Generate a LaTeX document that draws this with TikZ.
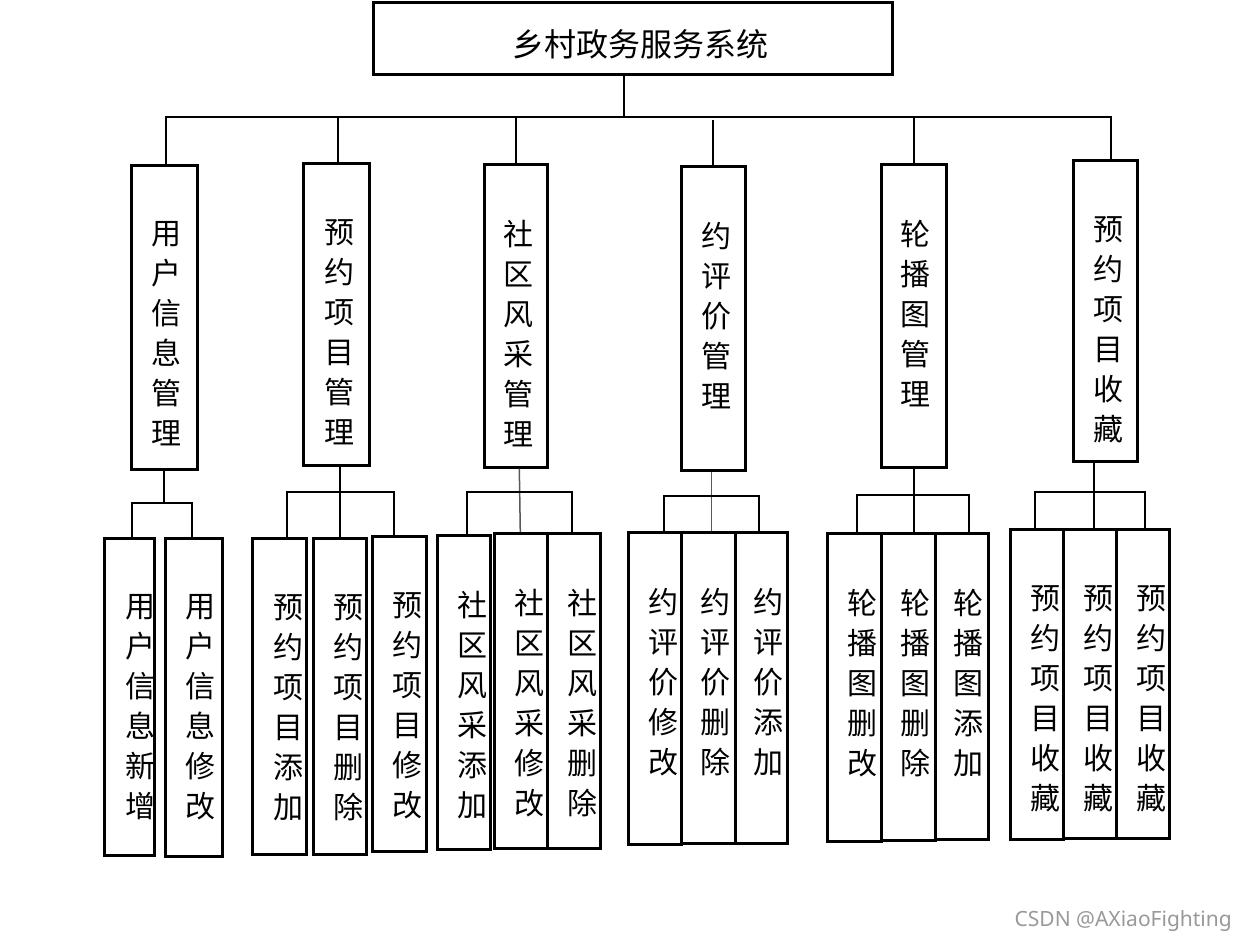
\documentclass[tikz,border=0pt]{standalone}
\usepackage{fontspec}
\newfontfamily\cjk{Noto Sans CJK SC}
\newfontfamily\wmfont{Noto Sans}
\usetikzlibrary{calc}
\begin{document}
\begin{tikzpicture}[x=1pt,y=-1pt,
  box/.style={draw, line width=2.6pt, inner sep=0pt, anchor=north west},
  conn/.style={line width=2.2pt},
  thinconn/.style={line width=1.5pt, black!65},
  vt/.style={font=\cjk\fontsize{30}{40}\selectfont, align=center, inner sep=0pt, anchor=north},
]
\useasboundingbox[fill=white] (0,0) rectangle (1235,941);

% top
\node[box, minimum width=519pt, minimum height=72pt] (top) at (372,1) {};
\node[font=\cjk\fontsize{32}{32}\selectfont, inner sep=0pt] (tt) at (640,44) {乡村政务服务系统};

% level 2
\node[box, minimum width=66pt, minimum height=304pt] (b1) at (130,164) {};
\node[box, minimum width=66pt, minimum height=302pt] (b2) at (302,162) {};
\node[box, minimum width=63pt, minimum height=303pt] (b3) at (483,163) {};
\node[box, minimum width=64pt, minimum height=304pt] (b4) at (680,165) {};
\node[box, minimum width=65pt, minimum height=303pt] (b5) at (880,163) {};
\node[box, minimum width=64pt, minimum height=301pt] (b6) at (1072,159) {};

% level 3
\node[box, minimum width=50pt, minimum height=317pt] (c11) at (103,537) {};
\node[box, minimum width=57pt, minimum height=318pt] (c12) at (164,537) {};
\node[box, minimum width=54pt, minimum height=316pt] (c21) at (251,537) {};
\node[box, minimum width=53pt, minimum height=316pt] (c22) at (312,537) {};
\node[box, minimum width=54pt, minimum height=315pt] (c23) at (371,535) {};
\node[box, minimum width=53pt, minimum height=314pt] (c31) at (436,534) {};
\node[box, minimum width=53pt, minimum height=315pt] (c32) at (493,532) {};
\node[box, minimum width=53pt, minimum height=315pt] (c33) at (546,532) {};
\node[box, minimum width=53pt, minimum height=312pt] (c41) at (627,531) {};
\node[box, minimum width=54pt, minimum height=311pt] (c42) at (680,531) {};
\node[box, minimum width=52pt, minimum height=311pt] (c43) at (734,531) {};
\node[box, minimum width=54pt, minimum height=308pt] (c51) at (826,532) {};
\node[box, minimum width=54pt, minimum height=307pt] (c52) at (880,532) {};
\node[box, minimum width=53pt, minimum height=306pt] (c53) at (934,532) {};
\node[box, minimum width=53pt, minimum height=310pt] (c61) at (1009,528) {};
\node[box, minimum width=53pt, minimum height=309pt] (c62) at (1062,528) {};
\node[box, minimum width=53pt, minimum height=309pt] (c63) at (1115,528) {};

% connectors: top to level 2
\coordinate (bus) at (0,117);
\draw[conn] ([xshift=-8.5pt]top.south) -- ([xshift=-8.5pt]top.south |- bus);
\draw[conn] ([xshift=2pt]b1.north) -- ([xshift=2pt]b1.north |- bus) -- ([xshift=6pt]b6.north |- bus) -- ([xshift=6pt]b6.north);
\draw[conn] ([xshift=2pt]b2.north) -- ([xshift=2pt]b2.north |- bus);
\draw[conn] ([xshift=0.5pt]b3.north) -- ([xshift=0.5pt]b3.north |- bus);
\draw[conn] (b4.north) -- ($(b4.north |- bus)+(0,3)$);
\draw[conn] ([xshift=0.5pt]b5.north) -- ([xshift=0.5pt]b5.north |- bus);

% group 1
\coordinate (j1) at (0,503);
\draw[conn] (b1.south) -- (b1.south |- j1);
\draw[conn] ([xshift=3pt]c11.north) -- ([xshift=3pt]c11.north |- j1) -- ([xshift=-1.5pt]c12.north |- j1) -- ([xshift=-1.5pt]c12.north);

% group 2
\coordinate (j2) at (0,492);
\draw[conn] (b2.south -| c22.north) -- (c22.north);
\draw[conn] ([xshift=8pt]c21.north) -- ([xshift=8pt]c21.north |- j2) -- ([xshift=-5pt]c23.north |- j2) -- ([xshift=-5pt]c23.north);

% group 3
\coordinate (j3) at (0,492);
\draw[thinconn] ([xshift=3.5pt]b3.south) -- ([xshift=-0.5pt]c32.north);
\draw[conn] ([xshift=3.5pt]c31.north) -- ([xshift=3.5pt]c31.north |- j3) -- ([xshift=-1.5pt]c33.north |- j3) -- ([xshift=-1.5pt]c33.north);

% group 4
\coordinate (j4) at (0,496);
\draw[thinconn] ([xshift=3pt]c42.north |- b4.south) -- ([xshift=3pt]c42.north);
\draw[conn] ([xshift=9.5pt]c41.north) -- ([xshift=9.5pt]c41.north |- j4) -- ([xshift=-2pt]c43.north |- j4) -- ([xshift=-2pt]c43.north);

% group 5
\coordinate (j5) at (0,495);
\draw[conn] (b5.south) -- (b5.south |- c52.north);
\draw[conn] ([xshift=3pt]c51.north) -- ([xshift=3pt]c51.north |- j5) -- ([xshift=7.5pt]c53.north |- j5) -- ([xshift=7.5pt]c53.north);

% group 6
\coordinate (j6) at (0,492);
\draw[conn] ([xshift=4.5pt]c62.north |- b6.south) -- ([xshift=4.5pt]c62.north);
\draw[conn] ([xshift=-1.5pt]c61.north) -- ([xshift=-1.5pt]c61.north |- j6) -- ([xshift=2.5pt]c63.north |- j6) -- ([xshift=2.5pt]c63.north);

% texts level 2
\node[vt] (tb1) at ([xshift=2pt,yshift=-57pt]b1.north) {用\\户\\信\\息\\管\\理};
\node[vt] (tb2) at ([xshift=3pt,yshift=-57pt]b2.north) {预\\约\\项\\目\\管\\理};
\node[vt] (tb3) at ([xshift=3pt,yshift=-57pt]b3.north) {社\\区\\风\\采\\管\\理};
\node[vt] (tb4) at ([xshift=3pt,yshift=-57pt]b4.north) {约\\评\\价\\管\\理};
\node[vt] (tb5) at ([xshift=2pt,yshift=-57pt]b5.north) {轮\\播\\图\\管\\理};
\node[vt] (tb6) at ([xshift=3pt,yshift=-57pt]b6.north) {预\\约\\项\\目\\收\\藏};

% texts level 3
\node[vt] (tc11) at ([xshift=11pt,yshift=-57pt]c11.north) {用\\户\\信\\息\\新\\增};
\node[vt] (tc12) at ([xshift=7pt,yshift=-57pt]c12.north) {用\\户\\信\\息\\修\\改};
\node[vt] (tc21) at ([xshift=9pt,yshift=-57pt]c21.north) {预\\约\\项\\目\\添\\加};
\node[vt] (tc22) at ([xshift=8.5pt,yshift=-57pt]c22.north) {预\\约\\项\\目\\删\\除};
\node[vt] (tc23) at ([xshift=8pt,yshift=-57pt]c23.north) {预\\约\\项\\目\\修\\改};
\node[vt] (tc31) at ([xshift=8.5pt,yshift=-57pt]c31.north) {社\\区\\风\\采\\添\\加};
\node[vt] (tc32) at ([xshift=8.5pt,yshift=-57pt]c32.north) {社\\区\\风\\采\\修\\改};
\node[vt] (tc33) at ([xshift=8.5pt,yshift=-57pt]c33.north) {社\\区\\风\\采\\删\\除};
\node[vt] (tc41) at ([xshift=8.5pt,yshift=-57pt]c41.north) {约\\评\\价\\修\\改};
\node[vt] (tc42) at ([xshift=7pt,yshift=-57pt]c42.north) {约\\评\\价\\删\\除};
\node[vt] (tc43) at ([xshift=7pt,yshift=-57pt]c43.north) {约\\评\\价\\添\\加};
\node[vt] (tc51) at ([xshift=8pt,yshift=-57pt]c51.north) {轮\\播\\图\\删\\改};
\node[vt] (tc52) at ([xshift=7pt,yshift=-57pt]c52.north) {轮\\播\\图\\删\\除};
\node[vt] (tc53) at ([xshift=6.5pt,yshift=-57pt]c53.north) {轮\\播\\图\\添\\加};
\node[vt] (tc61) at ([xshift=8.5pt,yshift=-57pt]c61.north) {预\\约\\项\\目\\收\\藏};
\node[vt] (tc62) at ([xshift=8.5pt,yshift=-57pt]c62.north) {预\\约\\项\\目\\收\\藏};
\node[vt] (tc63) at ([xshift=8.5pt,yshift=-57pt]c63.north) {预\\约\\项\\目\\收\\藏};

% watermark
\node[font=\wmfont\fontsize{21}{21}\selectfont, text=black!40, anchor=east, inner sep=0pt] (wm) at (1232,921) {CSDN @AXiaoFighting};
\end{tikzpicture}
\end{document}
